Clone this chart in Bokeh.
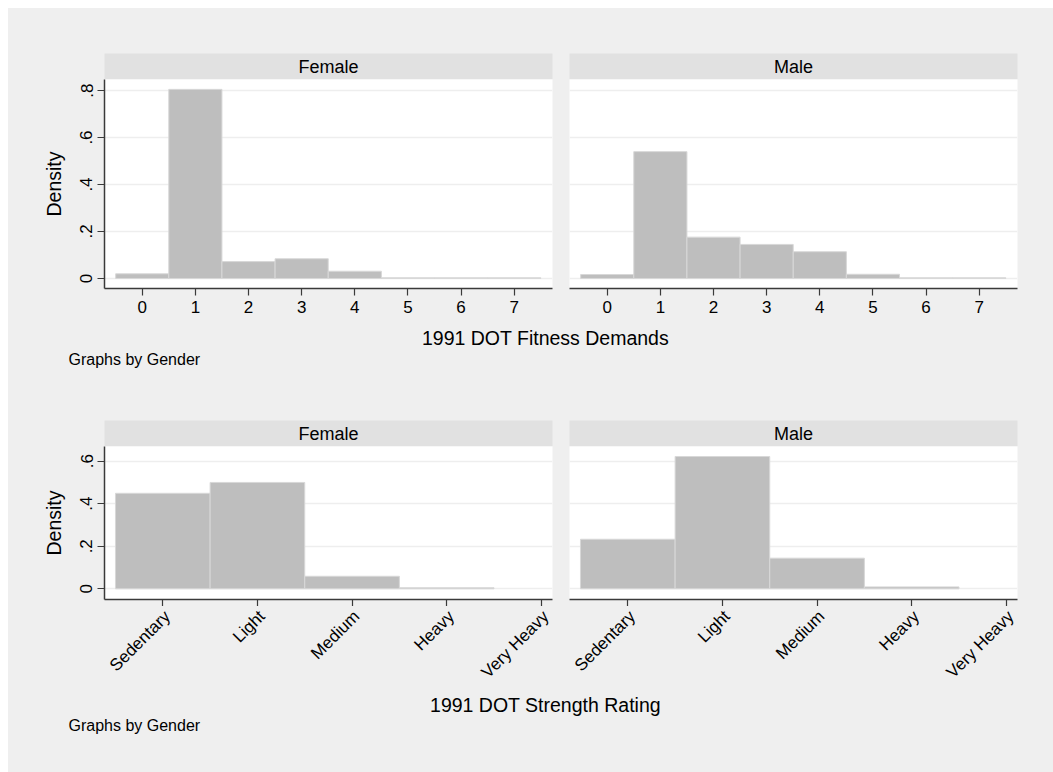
import math
from bokeh.plotting import figure
from bokeh.layouts import column, row
from bokeh.models import Range1d, FixedTicker, Label, ColumnDataSource
from bokeh.core.properties import value
from bokeh.embed import file_html
from bokeh.resources import INLINE

FONT = "Liberation Sans"
BG = "#efefef"
STRIP = "#e1e1e1"
BAR_FILL = "#bebebe"
BAR_LINE = "#d8d8d8"
AXIS_COLOR = "#3a3a3a"
GRID_COLOR = "#eeeeee"

# ---------------- data ----------------
genders = ["Female", "Male"]

fitness_levels = [0, 1, 2, 3, 4, 5, 6, 7]
fitness_female = [0.020, 0.805, 0.072, 0.084, 0.031, 0.003, 0.003, 0.003]
fitness_male = [0.017, 0.540, 0.176, 0.145, 0.114, 0.018, 0.003, 0.003]
fitness_yticks = [0, 0.2, 0.4, 0.6, 0.8]

strength_levels = [1, 2, 3, 4, 5]
strength_labels = ["Sedentary", "Light", "Medium", "Heavy", "Very Heavy"]
strength_female = [0.449, 0.500, 0.059, 0.005, 0.0]
strength_male = [0.233, 0.622, 0.144, 0.009, 0.0]
strength_yticks = [0, 0.2, 0.4, 0.6]

ytick_text = {0: "0", 0.2: ".2", 0.4: ".4", 0.6: ".6", 0.8: ".8"}

fitness_title = "1991 DOT Fitness Demands"
strength_title = "1991 DOT Strength Rating"
note_text = "Graphs by Gender"
y_title = "Density"

# ---------------- layout geometry ----------------
COLS = [dict(width=552, left=96, right=8), dict(width=493, left=9, right=36)]
TOTAL_W = 1045


def frame_w_px(col):
    return col["width"] - col["left"] - col["right"]


def strip_fig(label, col, top):
    p = figure(width=col["width"], height=top + 26, title=None,
               x_range=Range1d(0, 1), y_range=Range1d(0, 1),
               min_border_left=col["left"], min_border_right=col["right"],
               min_border_top=top, min_border_bottom=0,
               x_axis_location=None, y_axis_location=None,
               background_fill_color=STRIP, border_fill_color=BG,
               outline_line_color=None, toolbar_location=None,
               output_backend="svg")
    p.grid.visible = False
    p.add_layout(Label(x=0.5, y=0.5, text=label, text_align="center",
                       text_baseline="middle", text_font=FONT,
                       text_font_size="18px", text_color="black"))
    return p


def panel(col, levels, dens, xr, yr, yticks, frame_h, bottom, show_y,
          hide_xlabels=False):
    p = figure(width=col["width"], height=frame_h + bottom, title=None,
               x_range=Range1d(*xr), y_range=Range1d(*yr),
               min_border_left=col["left"], min_border_right=col["right"],
               min_border_top=0, min_border_bottom=bottom,
               y_axis_location="left" if show_y else None,
               background_fill_color="white", border_fill_color=BG,
               outline_line_color=None, toolbar_location=None,
               output_backend="svg")
    xs = [l for l, d in zip(levels, dens) if d > 0]
    ds = [d for d in dens if d > 0]
    src = ColumnDataSource(dict(x=xs, top=ds))
    p.vbar(x="x", top="top", bottom=0, width=1, source=src,
           fill_color=BAR_FILL, line_color=BAR_LINE, line_width=1)
    p.xgrid.visible = False
    p.ygrid.ticker = FixedTicker(ticks=yticks)
    p.ygrid.grid_line_color = GRID_COLOR
    p.ygrid.grid_line_width = 1.5

    xa = p.xaxis[0]
    xa.ticker = FixedTicker(ticks=levels)
    xa.minor_tick_line_color = None
    xa.major_tick_out = 7
    xa.major_tick_in = 0
    xa.axis_line_color = AXIS_COLOR
    xa.axis_line_width = 1.5
    xa.major_tick_line_color = AXIS_COLOR
    xa.major_tick_line_width = 1.2
    xa.major_label_text_font = FONT
    xa.major_label_text_color = "black"
    if hide_xlabels:
        # category names are drawn rotated in the strip below the axis
        xa.major_label_overrides = {lv: "" for lv in levels}
        xa.major_label_text_font_size = "0px"
        xa.major_label_standoff = 0
    else:
        xa.major_label_text_font_size = "17px"
        xa.major_label_standoff = 5

    if show_y:
        ya = p.yaxis[0]
        ya.ticker = FixedTicker(ticks=yticks)
        ya.major_label_overrides = {t: ytick_text[t] for t in yticks}
        ya.major_label_orientation = "vertical"
        ya.minor_tick_line_color = None
        ya.major_tick_out = 7
        ya.major_tick_in = 0
        ya.major_label_standoff = 5
        ya.axis_line_color = AXIS_COLOR
        ya.axis_line_width = 1.5
        ya.major_tick_line_color = AXIS_COLOR
        ya.major_tick_line_width = 1.2
        ya.major_label_text_font = FONT
        ya.major_label_text_font_size = "17px"
        ya.major_label_text_color = "black"
        ya.axis_label = y_title
        ya.axis_label_text_font = FONT
        ya.axis_label_text_font_size = "19.5px"
        ya.axis_label_text_font_style = "normal"
        ya.axis_label_text_color = "black"
        ya.axis_label_standoff = 13
    return p


def rotated_labels_fig(col, xr, levels, labels, height, anchor_y):
    # same horizontal scale as the panel above, extended over its borders
    ppx = frame_w_px(col) / (xr[1] - xr[0])
    x0 = xr[0] - col["left"] / ppx
    x1 = xr[1] + col["right"] / ppx
    p = figure(width=col["width"], height=height, title=None,
               x_range=Range1d(x0, x1), y_range=Range1d(height, 0),
               min_border=0, x_axis_location=None, y_axis_location=None,
               background_fill_color=BG, border_fill_color=BG,
               outline_line_color=None, toolbar_location=None,
               output_backend="svg")
    p.grid.visible = False
    src = ColumnDataSource(dict(x=levels, y=[anchor_y] * len(levels), text=labels))
    p.text(x="x", y="y", text="text", source=src, angle=math.pi / 4,
           x_offset=4.6, text_align="right", text_baseline="middle",
           text_font=value(FONT), text_font_size="17px", text_color="black")
    return p


def text_fig(height, title, title_mid, note_mid):
    p = figure(width=TOTAL_W, height=height, title=None,
               x_range=Range1d(0, TOTAL_W), y_range=Range1d(height, 0),
               min_border=0, x_axis_location=None, y_axis_location=None,
               background_fill_color=BG, border_fill_color=BG,
               outline_line_color=None, toolbar_location=None,
               output_backend="svg")
    p.grid.visible = False
    p.add_layout(Label(x=537, y=title_mid, text=title, text_align="center",
                       text_baseline="middle", text_font=FONT,
                       text_font_size="19.5px", text_color="black"))
    p.add_layout(Label(x=60, y=note_mid, text=note_text, text_align="left",
                       text_baseline="middle", text_font=FONT,
                       text_font_size="16px", text_color="black"))
    return p


# ---------------- top block: fitness demands ----------------
fit_x = (-0.71, 7.72)
fit_y = (-0.0426, 0.847)
top_strips = row(strip_fig(genders[0], COLS[0], 45), strip_fig(genders[1], COLS[1], 45),
                 spacing=0)
top_main = row(
    panel(COLS[0], fitness_levels, fitness_female, fit_x, fit_y, fitness_yticks, 209, 36, True),
    panel(COLS[1], fitness_levels, fitness_male, fit_x, fit_y, fitness_yticks, 209, 36, False),
    spacing=0,
)
top_text = text_fig(56, fitness_title, 13.5, 35)

# ---------------- bottom block: strength rating ----------------
str_x = (0.384, 5.118)
str_y = (-0.0503, 0.669)
bot_strips = row(strip_fig(genders[0], COLS[0], 40), strip_fig(genders[1], COLS[1], 40),
                 spacing=0)
bot_main = row(
    panel(COLS[0], strength_levels, strength_female, str_x, str_y, strength_yticks, 153, 7, True,
          True),
    panel(COLS[1], strength_levels, strength_male, str_x, str_y, strength_yticks, 153, 7, False,
          True),
    spacing=0,
)
bot_labels = row(
    rotated_labels_fig(COLS[0], str_x, strength_levels, strength_labels, 83, 7.1),
    rotated_labels_fig(COLS[1], str_x, strength_levels, strength_labels, 83, 7.1),
    spacing=0,
)
bot_text = text_fig(83, strength_title, 15, 36)

layout = column(top_strips, top_main, top_text, bot_strips, bot_main, bot_labels, bot_text,
                spacing=0,
                styles={"margin-left": "8px", "margin-top": "8px",
                        "background-color": BG})

open("out.html", "w").write(file_html(layout, INLINE))
